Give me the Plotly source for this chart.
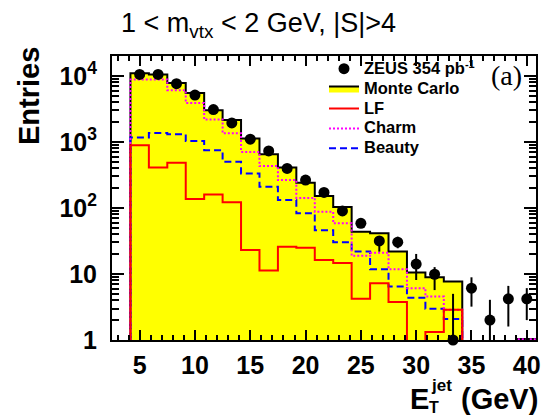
import plotly.graph_objects as go

# ---------------- data ----------------
bin_centers = [5.0, 6.667, 8.333, 10.0, 11.667, 13.333, 15.0, 16.667, 18.333, 20.0,
               21.667, 23.333, 25.0, 26.667, 28.333, 30.0, 31.667, 33.333, 35.0,
               36.667, 38.333, 40.0]
bin_width = 1.6667

zeus_data = [10500, 10500, 7620, 5130, 3085, 1936, 1099, 731, 396, 264,
             172, 90, 58.5, 31.6, 30.3, 14.1, 9.9, 1.0, 6.1, 2.0, 4.2, 4.2]
zeus_err_up = [102, 102, 87, 72, 56, 44, 33, 27, 20, 16,
               13, 9.5, 8, 6, 6.3, 6, 2.8, 4.0, 2.8, 2.06, 2.4, 1.9]
zeus_err_dn = [102, 102, 87, 72, 56, 44, 33, 27, 20, 16,
               13, 9.5, 8, 9.8, 5.8, 6, 4.2, 0.999, 2.9, 1.999, 2.6, 2.2]

mc_total = [11000, 10500, 7790, 5500, 3010, 2150, 1125, 652, 410, 240,
            151, 103, 43.7, 41.3, 21.8, 10.5, 8.95, 7.7, 0, 0, 0, 1.04]
mc_charm = [8850, 8850, 6040, 3900, 2180, 1350, 706, 430, 264, 142,
            87.6, 58.5, 18.8, 21, 11.8, 6.1, 4.56, 2.87, 0, 0, 0, 1.03]
mc_beauty = [1165, 1368, 1307, 1036, 750, 499, 333, 209, 132, 83,
             46, 30.2, 21.8, 11.8, 6.45, 4.35, 2.97, 2.08, 0, 0, 0, 0]
mc_lf = [891, 410, 482, 136, 160, 121.6, 23.1, 11.3, 25.9, 25,
         16.3, 14.6, 4.2, 7.26, 3.75, 0, 1.32, 2.87, 0, 0, 0, 0]

x_tickvals = [5, 10, 15, 20, 25, 30, 35, 40]
y_tickvals = [1, 10, 100, 1000, 10000]
y_ticktext = ["1", "10", "10<sup>2</sup>", "10<sup>3</sup>", "10<sup>4</sup>"]

FLOOR = 1e-2


def step_xy(vals):
    """ROOT-like histogram outline: verticals down to the floor at both ends."""
    xs, ys = [], []
    first = True
    for c, v in zip(bin_centers, vals):
        lo, hi = c - bin_width / 2, c + bin_width / 2
        vv = v if v > 0 else FLOOR
        if first:
            xs.append(lo)
            ys.append(FLOOR)
            first = False
        xs += [lo, hi]
        ys += [vv, vv]
    xs.append(xs[-1])
    ys.append(FLOOR)
    return xs, ys


FONT = "Liberation Sans, Arial, Helvetica, sans-serif"


def leg(name, size=16.5):
    return '<span style="font-size:%gpx">%s</span>' % (size, name)


fig = go.Figure()

# Monte Carlo total (yellow filled histogram)
mx, my = step_xy(mc_total)
fig.add_trace(go.Scatter(x=mx, y=my, mode="lines", fill="toself",
                         fillcolor="#ffff00", line=dict(color="black", width=2),
                         name=leg("Monte Carlo"), legendrank=2, hoverinfo="skip"))

bx, by = step_xy(mc_beauty)
fig.add_trace(go.Scatter(x=bx, y=by, mode="lines",
                         line=dict(color="#0000ff", width=2, dash="7px,4px"),
                         name=leg("Beauty"), legendrank=5, hoverinfo="skip"))

cx, cy = step_xy(mc_charm)
fig.add_trace(go.Scatter(x=cx, y=cy, mode="lines",
                         line=dict(color="#ff00ff", width=2, dash="2px,2px"),
                         name=leg("Charm"), legendrank=4, hoverinfo="skip"))

lx, ly = step_xy(mc_lf)
fig.add_trace(go.Scatter(x=lx, y=ly, mode="lines",
                         line=dict(color="#ff0000", width=2),
                         name=leg("LF"), legendrank=3, hoverinfo="skip"))

# data error bars (clipped to plot area)
fig.add_trace(go.Scatter(x=bin_centers, y=zeus_data, mode="markers",
                         marker=dict(size=1, color="rgba(0,0,0,0)"),
                         error_y=dict(type="data", symmetric=False, array=zeus_err_up,
                                      arrayminus=zeus_err_dn, color="black",
                                      thickness=2, width=0),
                         showlegend=False, hoverinfo="skip"))

# data points
fig.add_trace(go.Scatter(x=bin_centers, y=zeus_data, mode="markers",
                         marker=dict(size=11, color="black", symbol="circle"),
                         cliponaxis=False,
                         name=leg("ZEUS 354 pb") + "<sup>" + leg("-1", 11) + "</sup>",
                         legendrank=1))

fig.update_layout(
    width=549, height=419,
    margin=dict(l=112, r=8, t=56, b=79),
    paper_bgcolor="white", plot_bgcolor="white",
    font=dict(family=FONT, color="black"),
    showlegend=True,
    legend=dict(x=0.5, y=1.008, xanchor="left", yanchor="top",
                bgcolor="rgba(0,0,0,0)", borderwidth=0,
                font=dict(size=13, family=FONT, weight="bold"),
                itemwidth=30, tracegroupgap=0),
    title=dict(text="1 &lt; m<sub>vtx</sub> &lt; 2 GeV, |S|&gt;4",
               x=121 / 549, xanchor="left", xref="container",
               y=1 - 23 / 419, yanchor="middle", yref="container",
               font=dict(size=27, family=FONT)),
)

fig.update_xaxes(range=[2.5, 40.8333], tickvals=x_tickvals,
                 ticks="inside", ticklen=10, tickwidth=2, tickcolor="black",
                 showline=True, linewidth=2, linecolor="black", mirror="ticks",
                 showgrid=False, zeroline=False,
                 tickfont=dict(size=25, family=FONT, weight="bold"),
                 ticklabelstandoff=2,
                 minor=dict(dtick=1, ticklen=5, tickwidth=1.5, ticks="inside",
                            tickcolor="black", showgrid=False))

fig.update_yaxes(type="log", range=[0, 4.301], tickvals=y_tickvals, ticktext=y_ticktext,
                 ticks="inside", ticklen=12, tickwidth=2, tickcolor="black",
                 showline=True, linewidth=2, linecolor="black", mirror="ticks",
                 showgrid=False, zeroline=False,
                 tickfont=dict(size=25, family=FONT, weight="bold"),
                 ticklabelstandoff=8,
                 minor=dict(dtick="D1", ticklen=7, tickwidth=1.5, ticks="inside",
                            tickcolor="black", showgrid=False))


def px(xp):
    return (xp - 112) / 429.0


def py(yp):
    return (340 - yp) / 284.0


annots = [
    dict(text="<b>Entries</b>", x=px(28), y=py(96), textangle=-90,
         font=dict(size=29, family=FONT), xanchor="center", yanchor="middle"),
    dict(text="<b>E</b>", x=px(411), y=py(399), xanchor="left", yanchor="middle",
         font=dict(size=29, family=FONT)),
    dict(text="<b>jet</b>", x=px(433), y=py(385), xanchor="left", yanchor="middle",
         font=dict(size=17, family=FONT)),
    dict(text="<b>T</b>", x=px(431), y=py(407), xanchor="left", yanchor="middle",
         font=dict(size=16, family=FONT)),
    dict(text="<b>(GeV)</b>", x=px(463), y=py(399), xanchor="left", yanchor="middle",
         font=dict(size=29, family=FONT)),
    dict(text="(a)", x=px(511.5), y=py(75), xanchor="center", yanchor="middle",
         font=dict(size=28, family="Liberation Serif, Times New Roman, serif")),
]
for a in annots:
    a.update(xref="paper", yref="paper", showarrow=False)
    fig.add_annotation(**a)

fig.write_html("out.html")
